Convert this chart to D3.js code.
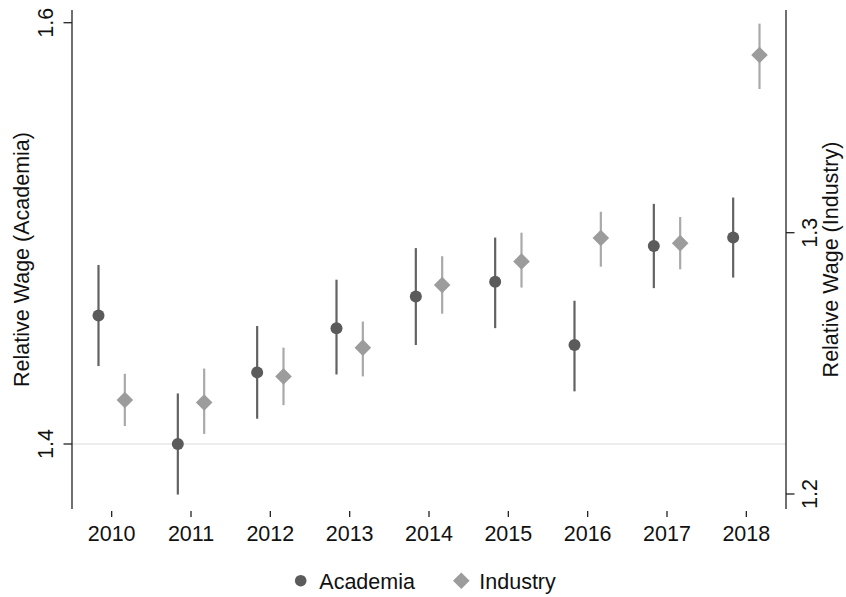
<!DOCTYPE html>
<html>
<head>
<meta charset="utf-8">
<script src="https://cdn.jsdelivr.net/npm/d3@7"></script>
<style>
  html, body { margin: 0; padding: 0; background: #fff; }
  svg { display: block; }
  text { font-family: "Liberation Sans", Arial, Helvetica, sans-serif; fill: #111; }
</style>
</head>
<body>
<svg id="chart" width="846" height="597"></svg>
<script>
// ---- data ----
const years = [2010, 2011, 2012, 2013, 2014, 2015, 2016, 2017, 2018];
const academiaMean = [1.461, 1.400, 1.434, 1.455, 1.470, 1.477, 1.447, 1.494, 1.498];
const academiaLow  = [1.437, 1.376, 1.412, 1.433, 1.447, 1.455, 1.425, 1.474, 1.479];
const academiaHigh = [1.485, 1.424, 1.456, 1.478, 1.493, 1.498, 1.468, 1.514, 1.517];
const industryMean = [1.236, 1.235, 1.245, 1.256, 1.280, 1.289, 1.298, 1.296, 1.368];
const industryLow  = [1.226, 1.223, 1.234, 1.245, 1.269, 1.279, 1.287, 1.286, 1.355];
const industryHigh = [1.246, 1.248, 1.256, 1.266, 1.291, 1.300, 1.308, 1.306, 1.380];
const leftTicks = [1.4, 1.6];
const rightTicks = [1.2, 1.3];
const leftTitle = "Relative Wage (Academia)";
const rightTitle = "Relative Wage (Industry)";
const seriesNames = ["Academia", "Industry"];

// ---- layout ----
const plotLeft = 72, plotRight = 786, plotTop = 10, plotBottom = 509;
const colAcad = "#5b5b5b", colAcadBar = "#626262";
const colInd = "#9c9c9c", colIndBar = "#a9a9a9";
const axisCol = "#222";
const fontSize = 21.5;

const svg = d3.select("#chart");

const x = d3.scaleLinear().domain([2009.5, 2018.5]).range([plotLeft, plotRight]);
const yL = d3.scaleLinear().domain([1.4, 1.6]).range([444, 22.7]);
const yR = d3.scaleLinear().domain([1.2, 1.3]).range([494, 232.7]);
const off = 0.166;

// gridline at 1.4
svg.append("line")
  .attr("x1", plotLeft).attr("x2", plotRight)
  .attr("y1", yL(1.4)).attr("y2", yL(1.4))
  .attr("stroke", "#e6e6e6").attr("stroke-width", 1.5);

// left axis
const gL = svg.append("g");
gL.append("line").attr("x1", plotLeft).attr("x2", plotLeft)
  .attr("y1", plotTop).attr("y2", plotBottom)
  .attr("stroke", axisCol).attr("stroke-width", 1.3);
leftTicks.forEach(t => {
  gL.append("line").attr("x1", plotLeft - 8.5).attr("x2", plotLeft)
    .attr("y1", yL(t)).attr("y2", yL(t))
    .attr("stroke", axisCol).attr("stroke-width", 1.3);
  gL.append("text")
    .attr("transform", `translate(53,${yL(t)}) rotate(-90)`)
    .attr("text-anchor", "middle")
    .style("font-size", fontSize + "px")
    .text(d3.format(".1f")(t));
});
svg.append("text")
  .attr("transform", `translate(29,${(plotTop + plotBottom) / 2}) rotate(-90)`)
  .attr("text-anchor", "middle")
  .style("font-size", fontSize + "px")
  .text(leftTitle);

// right axis
const gR = svg.append("g");
gR.append("line").attr("x1", plotRight).attr("x2", plotRight)
  .attr("y1", plotTop).attr("y2", plotBottom)
  .attr("stroke", axisCol).attr("stroke-width", 1.3);
rightTicks.forEach(t => {
  gR.append("line").attr("x1", plotRight).attr("x2", plotRight + 8.5)
    .attr("y1", yR(t)).attr("y2", yR(t))
    .attr("stroke", axisCol).attr("stroke-width", 1.3);
  gR.append("text")
    .attr("transform", `translate(816.5,${yR(t)}) rotate(-90)`)
    .attr("text-anchor", "middle")
    .style("font-size", fontSize + "px")
    .text(d3.format(".1f")(t));
});
svg.append("text")
  .attr("transform", `translate(838,${(plotTop + plotBottom) / 2}) rotate(-90)`)
  .attr("text-anchor", "middle")
  .style("font-size", fontSize + "px")
  .text(rightTitle);

// x axis (ticks only)
const gX = svg.append("g");
years.forEach(yv => {
  gX.append("line").attr("x1", x(yv)).attr("x2", x(yv))
    .attr("y1", 511).attr("y2", 517)
    .attr("stroke", axisCol).attr("stroke-width", 1.3);
  gX.append("text")
    .attr("x", x(yv)).attr("y", 541)
    .attr("text-anchor", "middle")
    .style("font-size", fontSize + "px")
    .text(yv);
});

// academia error bars + points
const acad = years.map((yv, i) => ({ yr: yv, m: academiaMean[i], lo: academiaLow[i], hi: academiaHigh[i] }));
const ind = years.map((yv, i) => ({ yr: yv, m: industryMean[i], lo: industryLow[i], hi: industryHigh[i] }));

svg.append("g").selectAll("line").data(acad).join("line")
  .attr("x1", d => x(d.yr - off)).attr("x2", d => x(d.yr - off))
  .attr("y1", d => yL(d.lo)).attr("y2", d => yL(d.hi))
  .attr("stroke", colAcadBar).attr("stroke-width", 2.2);
svg.append("g").selectAll("line").data(ind).join("line")
  .attr("x1", d => x(d.yr + off)).attr("x2", d => x(d.yr + off))
  .attr("y1", d => yR(d.lo)).attr("y2", d => yR(d.hi))
  .attr("stroke", colIndBar).attr("stroke-width", 2.2);

svg.append("g").selectAll("circle").data(acad).join("circle")
  .attr("cx", d => x(d.yr - off)).attr("cy", d => yL(d.m))
  .attr("r", 6).attr("fill", colAcad);

const diamond = (cx, cy, h) => `M${cx},${cy - h}L${cx + h},${cy}L${cx},${cy + h}L${cx - h},${cy}Z`;
svg.append("g").selectAll("path").data(ind).join("path")
  .attr("d", d => diamond(x(d.yr + off), yR(d.m), 8.3))
  .attr("fill", colInd);

// legend
const lg = svg.append("g");
lg.append("circle").attr("cx", 300.7).attr("cy", 580.7).attr("r", 5.8).attr("fill", colAcad);
lg.append("text").attr("x", 319.3).attr("y", 588.5).style("font-size", fontSize + "px").text(seriesNames[0]);
lg.append("path").attr("d", diamond(461.3, 580.7, 8.3)).attr("fill", colInd);
lg.append("text").attr("x", 479.3).attr("y", 588.5).style("font-size", fontSize + "px").text(seriesNames[1]);
</script>
</body>
</html>
